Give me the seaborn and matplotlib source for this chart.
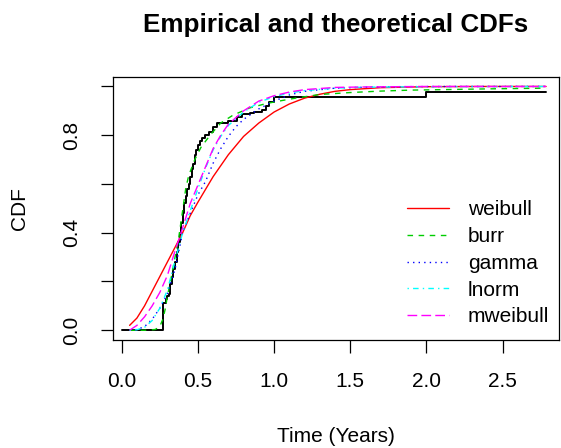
import numpy as np
import pandas as pd
import seaborn as sns
import matplotlib.pyplot as plt

# empirical CDF (step function)
ecdf_x = [0.0, 0.274, 0.29, 0.30, 0.31, 0.32, 0.33, 0.34, 0.35, 0.36, 0.37, 0.38, 0.39,
          0.40, 0.41, 0.42, 0.43, 0.44, 0.45, 0.46, 0.47, 0.48, 0.49, 0.50, 0.515, 0.53,
          0.55, 0.57, 0.60, 0.625, 0.70, 0.76, 0.79, 0.84, 0.87, 0.92, 0.95, 0.97, 1.00,
          2.00, 2.785]
ecdf_y = [0.0, 0.11, 0.13, 0.14, 0.15, 0.19, 0.22, 0.25, 0.28, 0.32, 0.36, 0.40, 0.44,
          0.48, 0.52, 0.55, 0.58, 0.60, 0.63, 0.66, 0.68, 0.72, 0.74, 0.76, 0.775, 0.79,
          0.80, 0.815, 0.835, 0.85, 0.86, 0.875, 0.885, 0.89, 0.895, 0.905, 0.92, 0.935,
          0.955, 0.977, 0.977]

# fitted CDFs
weibull_x = [0.052, 0.10, 0.15, 0.20, 0.25, 0.30, 0.35, 0.40, 0.45, 0.50, 0.60, 0.70, 0.80,
             0.90, 1.00, 1.10, 1.20, 1.30, 1.40, 1.50, 1.70, 2.00, 2.40, 2.785]
weibull_y = [0.02, 0.05, 0.10, 0.16, 0.22, 0.28, 0.34, 0.40, 0.47, 0.525, 0.63, 0.72, 0.795,
             0.85, 0.895, 0.928, 0.952, 0.968, 0.98, 0.987, 0.995, 0.999, 1.0, 1.0]

burr_x = [0.052, 0.15, 0.22, 0.25, 0.27, 0.285, 0.30, 0.32, 0.35, 0.372, 0.40, 0.42, 0.44,
          0.48, 0.52, 0.58, 0.65, 0.73, 0.84, 0.95, 1.05, 1.15, 1.30, 1.50, 1.70, 1.90,
          2.10, 2.40, 2.785]
burr_y = [0.0, 0.0, 0.003, 0.015, 0.045, 0.085, 0.14, 0.20, 0.30, 0.37, 0.49, 0.58, 0.635,
          0.70, 0.75, 0.80, 0.85, 0.882, 0.912, 0.93, 0.942, 0.953, 0.967, 0.975, 0.981,
          0.985, 0.987, 0.99, 0.993]

gamma_x = [0.052, 0.10, 0.15, 0.20, 0.25, 0.30, 0.35, 0.40, 0.45, 0.50, 0.55, 0.60, 0.65,
           0.70, 0.75, 0.80, 0.90, 1.00, 1.10, 1.20, 1.40, 1.60, 1.80, 2.20, 2.785]
gamma_y = [0.0, 0.003, 0.015, 0.045, 0.09, 0.15, 0.25, 0.40, 0.48, 0.555, 0.61, 0.685, 0.745,
           0.795, 0.835, 0.865, 0.908, 0.94, 0.965, 0.98, 0.993, 0.997, 0.999, 1.0, 1.0]

lnorm_x = [0.052, 0.10, 0.15, 0.20, 0.25, 0.30, 0.35, 0.40, 0.45, 0.50, 0.55, 0.60, 0.65,
           0.70, 0.80, 0.90, 1.00, 1.10, 1.20, 1.40, 1.60, 2.00, 2.785]
lnorm_y = [0.0, 0.002, 0.012, 0.04, 0.09, 0.165, 0.285, 0.40, 0.49, 0.58, 0.665, 0.74, 0.795,
           0.84, 0.895, 0.935, 0.958, 0.973, 0.983, 0.993, 0.997, 0.999, 1.0]

mweibull_x = [0.052, 0.10, 0.15, 0.20, 0.25, 0.30, 0.35, 0.40, 0.45, 0.50, 0.55, 0.60, 0.65,
              0.70, 0.80, 0.90, 1.00, 1.10, 1.20, 1.40, 1.60, 2.00, 2.785]
mweibull_y = [0.0, 0.02, 0.055, 0.10, 0.155, 0.225, 0.325, 0.42, 0.52, 0.595, 0.67, 0.745,
              0.80, 0.845, 0.90, 0.94, 0.962, 0.977, 0.987, 0.996, 0.998, 1.0, 1.0]

fits = [
    ("weibull", weibull_x, weibull_y, "#FF0000", "-"),
    ("burr", burr_x, burr_y, "#00CD00", (0, (4, 4))),
    ("gamma", gamma_x, gamma_y, "#0000FF", (0, (1, 3))),
    ("lnorm", lnorm_x, lnorm_y, "#00FFFF", (0, (1, 3, 4, 3))),
    ("mweibull", mweibull_x, mweibull_y, "#FF00FF", (0, (7, 3))),
]

sns.set_style("ticks")
plt.rcParams['font.family'] = ['Liberation Sans', 'DejaVu Sans']
plt.rcParams['text.color'] = 'black'
plt.rcParams['xtick.color'] = 'black'
plt.rcParams['ytick.color'] = 'black'
plt.rcParams['axes.edgecolor'] = 'black'

fig = plt.figure(figsize=(5.61, 4.48), dpi=100)
ax = fig.add_axes([113/561, 108/448, 446/561, 263.3/448])

sns.lineplot(x=ecdf_x, y=ecdf_y, ax=ax, color="black", lw=1.4,
             drawstyle="steps-post", sort=False, estimator=None)

for name, xs, ys, col, ls in fits:
    sns.lineplot(x=xs, y=ys, ax=ax, color=col, lw=1.0, linestyle=ls,
                 label=name, sort=False, estimator=None)

ax.set_xlim(-0.057, 2.870)
ax.set_ylim(-0.04, 1.04)
ax.set_xticks([0, 0.5, 1.0, 1.5, 2.0, 2.5])
ax.set_xticklabels(["0.0", "0.5", "1.0", "1.5", "2.0", "2.5"], fontsize=15)
ax.set_yticks([0, 0.2, 0.4, 0.6, 0.8, 1.0])
ax.set_yticklabels(["0.0", "", "0.4", "", "0.8", ""], fontsize=15,
                   rotation=90, va="center")
ax.tick_params(axis="both", direction="out", length=9, width=0.9, colors="black",
               pad=14)
for s in ax.spines.values():
    s.set_color("black")
    s.set_linewidth(0.9)
ax.set_xlabel("")
ax.set_ylabel("")

leg = ax.legend(loc="upper left", bbox_to_anchor=(0.66, 0.53), frameon=False,
                fontsize=15, handlelength=2.0, handletextpad=0.9,
                labelspacing=0.37, borderpad=0, borderaxespad=0)

fig.text(336/561, 1 - 32/448, "Empirical and theoretical CDFs", ha="center",
         va="baseline", fontsize=18.7, fontweight="bold")
fig.text(336/561, 1 - 441.7/448, "Time (Years)", ha="center", va="baseline",
         fontsize=15)
fig.text(19/561, 1 - 209/448, "CDF", ha="center", va="center", rotation=90,
         fontsize=15)

fig.savefig("out.png", dpi=100)
